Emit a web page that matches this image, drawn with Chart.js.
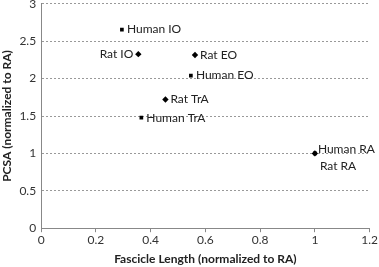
<!DOCTYPE html>
<html>
<head>
<meta charset="utf-8">
<script src="https://cdn.jsdelivr.net/npm/chart.js@4/dist/chart.umd.min.js"></script>
<style>
  html, body { margin: 0; padding: 0; background: #fff; overflow: hidden; }
  #wrap { width: 379px; height: 272px; margin-top: -6px; }
</style>
</head>
<body>
<div id="wrap"><canvas id="chart"></canvas></div>
<script>
// fascicle length / PCSA, both normalized to RA
const humanLabels = ["Human IO", "Human EO", "Human TrA", "Human RA"];
const humanX = [0.295, 0.547, 0.366, 1.0];
const humanY = [2.655, 2.04, 1.478, 1.0];

const ratLabels = ["Rat IO", "Rat EO", "Rat TrA", "Rat RA"];
const ratX = [0.355, 0.562, 0.454, 1.0];
const ratY = [2.327, 2.315, 1.72, 1.0];

const xTicks = [0, 0.2, 0.4, 0.6, 0.8, 1, 1.2];
const yTicks = [0, 0.5, 1, 1.5, 2, 2.5, 3];

const FONT = "Lato, 'Open Sans', sans-serif";

// where each label sits relative to its marker
const humanPos = ["right", "right", "right", "above"];
const ratPos = ["left", "right", "right", "below"];

const toPoints = (xs, ys) => xs.map((x, i) => ({ x: x, y: ys[i] }));

const pointLabels = {
    id: "pointLabels",
    afterDatasetsDraw(chart) {
        const ctx = chart.ctx;
        ctx.save();
        ctx.font = "12px " + FONT;
        ctx.fillStyle = "#222";
        ctx.textBaseline = "middle";
        chart.data.datasets.forEach((ds, di) => {
            const meta = chart.getDatasetMeta(di);
            meta.data.forEach((el, i) => {
                const pos = ds.labelPos[i];
                const text = ds.labels[i];
                let x = el.x, y = el.y;
                if (pos === "left") {
                    ctx.textAlign = "right";
                    x -= 5;
                } else if (pos === "above") {
                    ctx.textAlign = "left";
                    x += 3;
                    y -= 4;
                } else if (pos === "below") {
                    ctx.textAlign = "left";
                    x += 5;
                    y += 13;
                } else {
                    ctx.textAlign = "left";
                    x += 5;
                }
                ctx.fillText(text, x, y);
            });
        });
        ctx.restore();
    }
};

new Chart(document.getElementById("chart"), {
    type: "scatter",
    data: {
        datasets: [
            {
                label: "Human",
                data: toPoints(humanX, humanY),
                labels: humanLabels,
                labelPos: humanPos,
                pointStyle: "rect",
                pointRadius: 2.6,
                backgroundColor: "#000",
                borderColor: "#000",
                borderWidth: 0
            },
            {
                label: "Rat",
                data: toPoints(ratX, ratY),
                labels: ratLabels,
                labelPos: ratPos,
                pointStyle: "rectRot",
                pointRadius: 3.2,
                backgroundColor: "#000",
                borderColor: "#000",
                borderWidth: 0
            }
        ]
    },
    options: {
        responsive: true,
        maintainAspectRatio: false,
        animation: false,
        layout: { padding: { top: 0, right: 8, left: 0, bottom: 0 } },
        plugins: {
            legend: { display: false },
            tooltip: { enabled: false }
        },
        scales: {
            x: {
                type: "linear",
                min: 0,
                max: 1.2,
                afterBuildTicks: (scale) => { scale.ticks = xTicks.map(v => ({ value: v })); },
                ticks: {
                    font: { family: FONT, size: 12 },
                    color: "#333",
                    padding: 1,
                    callback: (v) => String(v)
                },
                grid: {
                    drawOnChartArea: false,
                    drawTicks: true,
                    tickLength: 4,
                    tickColor: "#888"
                },
                border: { color: "#888", width: 1 },
                title: {
                    display: true,
                    text: "Fascicle Length (normalized to RA)",
                    font: { family: FONT, size: 12, weight: "bold" },
                    color: "#222",
                    padding: { top: 3, bottom: 0 }
                }
            },
            y: {
                type: "linear",
                min: 0,
                max: 3,
                afterBuildTicks: (scale) => { scale.ticks = yTicks.map(v => ({ value: v })); },
                ticks: {
                    font: { family: FONT, size: 12, lineHeight: 0.8 },
                    color: "#333",
                    padding: 5,
                    callback: (v) => String(v)
                },
                grid: {
                    drawTicks: false,
                    color: "#999",
                    lineWidth: 1
                },
                border: { color: "#888", width: 1, dash: [2, 2] },
                title: {
                    display: true,
                    text: "PCSA (normalized to RA)",
                    font: { family: FONT, size: 12, weight: "bold" },
                    color: "#222",
                    padding: { top: 0, bottom: 0 }
                }
            }
        }
    },
    plugins: [pointLabels]
});
</script>
</body>
</html>
